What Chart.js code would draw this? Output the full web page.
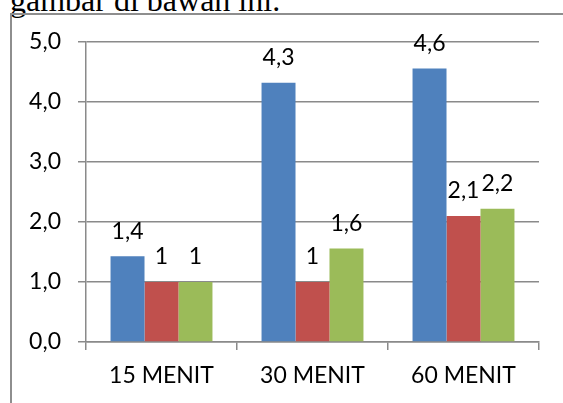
<!DOCTYPE html>
<html>
<head>
<meta charset="utf-8">
<script src="https://cdn.jsdelivr.net/npm/chart.js@4"></script>
<style>
  html, body { margin: 0; padding: 0; background: #fff; overflow: hidden; }
  #page { position: relative; width: 563px; height: 403px; overflow: hidden; }
  #caption {
    position: absolute; left: 10px; top: -16px;
    font-family: "Liberation Serif", serif; font-size: 32px; line-height: 32px;
    color: #000; white-space: nowrap;
  }
  #frame {
    position: absolute; left: 10px; top: 13px; width: 600px; height: 450px;
    border-left: 2px solid #8e8e8e; border-top: 2px solid #8e8e8e;
  }
  #chart { position: absolute; left: 0; top: 0; }
</style>
</head>
<body>
<div id="page">
  <div id="caption">gambar di bawah ini.</div>
  <div id="frame"></div>
  <canvas id="chart" width="563" height="403"></canvas>
</div>
<script>
// data
const categories = ["15 MENIT", "30 MENIT", "60 MENIT"];
const seriesBlue = [1.43, 4.32, 4.56];
const seriesRed = [1, 1, 2.1];
const seriesGreen = [1, 1.56, 2.22];
const yTicks = [0, 1, 2, 3, 4, 5];

const FONT = "Lato";
const FONT_SIZE = 23;

// format angka gaya Indonesia (koma desimal)
function fmtLabel(v) {
    return String(Math.round(v * 10) / 10).replace('.', ',');
}

// plugin label data di atas batang
const barLabels = {
    id: 'barLabels',
    afterDatasetsDraw(chart) {
        const ctx = chart.ctx;
        ctx.save();
        ctx.font = FONT_SIZE + "px " + FONT;
        ctx.fillStyle = "#000";
        ctx.textAlign = "center";
        ctx.textBaseline = "middle";
        chart.data.datasets.forEach((ds, i) => {
            chart.getDatasetMeta(i).data.forEach((bar, j) => {
                ctx.fillText(fmtLabel(ds.data[j]), bar.x, bar.y - 25);
            });
        });
        ctx.restore();
    }
};

const ctx = document.getElementById('chart').getContext('2d');
new Chart(ctx, {
    type: 'bar',
    data: {
        labels: categories,
        datasets: [
            { data: seriesBlue, backgroundColor: "#4F81BD" },
            { data: seriesRed, backgroundColor: "#C0504D" },
            { data: seriesGreen, backgroundColor: "#9BBB59" }
        ]
    },
    options: {
        responsive: false,
        animation: false,
        devicePixelRatio: 1,
        layout: { padding: { left: 0, top: 42, right: 24, bottom: 0 } },
        datasets: { bar: { barPercentage: 1, categoryPercentage: 0.675 } },
        plugins: { legend: { display: false }, tooltip: { enabled: false } },
        scales: {
            x: {
                afterFit(scale) { scale.height = 61; },
                grid: { drawOnChartArea: false, drawTicks: true, tickLength: 8, color: "#8a8a8a", lineWidth: 1.5, offset: true },
                border: { color: "#8a8a8a", width: 1.5 },
                ticks: { color: "#000", font: { family: FONT, size: FONT_SIZE }, padding: 12 }
            },
            y: {
                min: 0,
                max: 5,
                afterFit(scale) { scale.width = 86; },
                afterBuildTicks(scale) { scale.ticks = yTicks.map(v => ({ value: v })); },
                grid: { color: "#8a8a8a", lineWidth: 1.5, tickLength: 8 },
                border: { color: "#8a8a8a", width: 1.5 },
                ticks: {
                    color: "#000",
                    font: { family: FONT, size: FONT_SIZE },
                    padding: 17,
                    callback: v => v.toFixed(1).replace('.', ',')
                }
            }
        }
    },
    plugins: [barLabels]
});
</script>
</body>
</html>
